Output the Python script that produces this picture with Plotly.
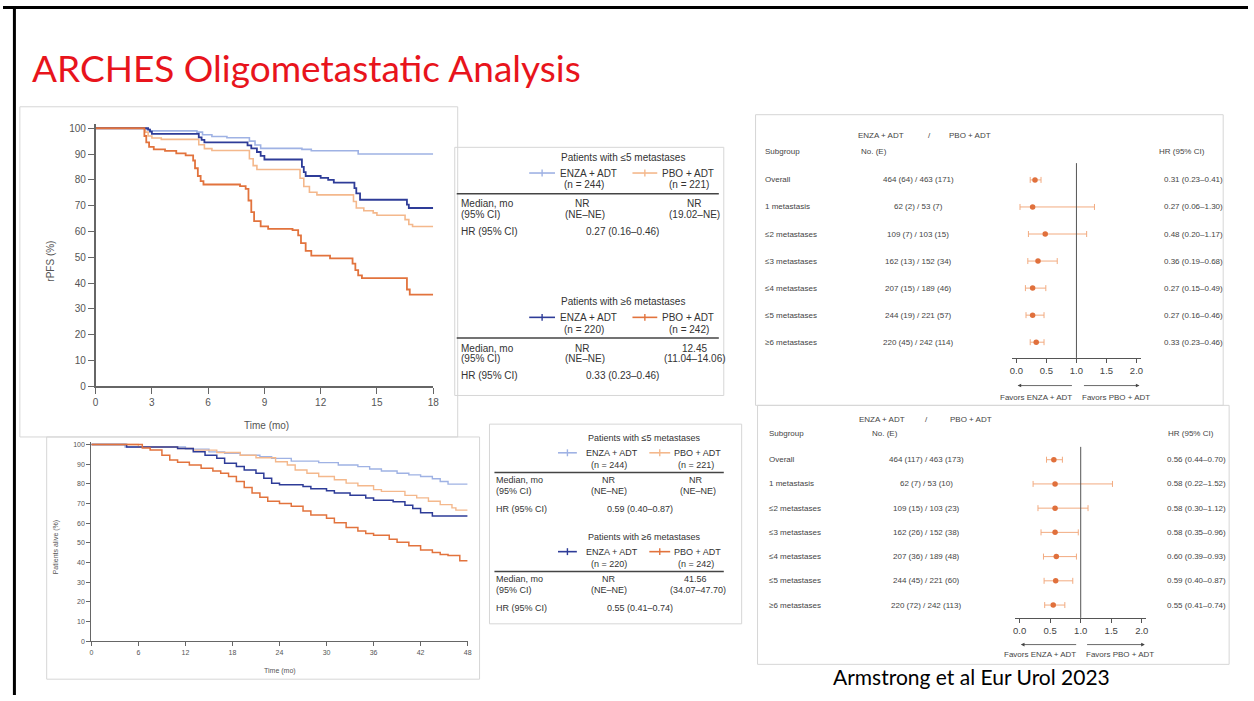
import plotly.graph_objects as go

W, H = 1254, 701


def fx(x):
    return x / W


def fy(y):
    return 1 - y / H


# ---------------- rPFS Kaplan-Meier (months, % event free) ----------------
rpfs_enza_le5_t = [0, 2.7, 2.9, 5.4, 5.7, 6.2, 7.0, 8.2, 8.5, 8.8, 11.0, 11.5, 14.0, 18]
rpfs_enza_le5_s = [100, 99.5, 99.0, 98.5, 97.5, 96.8, 96.3, 95.0, 93.5, 92.2, 91.8, 91.3, 90.0, 90.0]

rpfs_pbo_le5_t = [0, 2.65, 2.8, 3.0, 3.5, 5.5, 5.8, 6.2, 8.2, 8.4, 8.6, 10.9, 11.1, 11.4, 11.8,
                  13.75, 13.9, 14.3, 14.8, 15.0, 16.5, 16.7, 16.9, 18]
rpfs_pbo_le5_s = [100, 98.5, 97.0, 96.2, 95.7, 93.6, 92.1, 91.4, 88.2, 85.5, 84.0, 80.6, 77.4, 75.2, 74.2,
                  71.6, 69.1, 68.0, 67.2, 66.3, 64.6, 62.7, 61.9, 61.9]

rpfs_enza_ge6_t = [0, 2.8, 2.9, 3.0, 5.5, 5.65, 5.8, 8.1, 8.3, 8.6, 8.8, 9.0, 11.0, 11.1, 11.2,
                   12.0, 12.4, 12.7, 13.8, 13.9, 14.1, 16.6, 16.7, 18]
rpfs_enza_ge6_s = [100, 99.5, 98.7, 97.8, 96.5, 95.5, 94.5, 93.4, 92.2, 90.8, 89.3, 87.9, 85.0, 83.0, 81.5,
                   80.8, 80.0, 78.9, 76.8, 74.8, 72.3, 70.4, 69.1, 69.1]

rpfs_pbo_ge6_t = [0, 2.6, 2.7, 2.85, 3.1, 3.7, 4.3, 4.8, 5.2, 5.3, 5.45, 5.6, 5.75, 7.7, 8.0, 8.15,
                  8.3, 8.45, 8.8, 9.2, 10.5, 10.8, 10.95, 11.2, 11.5, 12.5, 13.7, 13.85, 14.0, 14.2,
                  16.6, 16.75, 18]
rpfs_pbo_ge6_s = [100, 97.0, 94.5, 92.8, 91.8, 91.2, 90.3, 89.5, 87.5, 84.5, 81.5, 79.5, 78.2, 77.6, 76.5, 72.0,
                  67.5, 64.0, 62.0, 61.0, 60.5, 58.5, 55.5, 52.5, 50.6, 49.6, 47.5, 45.0, 43.0, 41.9,
                  37.5, 35.5, 35.5]

# ---------------- OS Kaplan-Meier (months, % alive) ----------------
os_enza_le5_t = [0, 4.3, 12, 15, 17, 19, 21.5, 23, 25.5, 29, 31.5, 34, 35.5, 37, 39, 40.5, 42, 43.5, 44.5, 45.5, 48]
os_enza_le5_s = [100, 98.8, 97.7, 96.3, 95.5, 94.6, 93.8, 93.0, 91.6, 90.8, 89.6, 88.8, 87.6, 86.6, 85.4, 84.6,
                 83.8, 82.6, 81.2, 79.9, 79.9]

os_pbo_le5_t = [0, 6, 11, 13, 16, 19, 21, 23.5, 25, 26, 27.5, 29, 31, 32.5, 34, 36, 37, 40, 41.5, 43, 44.5,
                46, 46.5, 48]
os_pbo_le5_s = [100, 98.8, 98.0, 97.2, 96.0, 94.6, 93.3, 91.3, 89.6, 87.1, 85.4, 83.8, 82.1, 80.4, 79.1, 77.1,
                76.2, 74.2, 72.9, 71.2, 69.5, 67.8, 66.7, 66.7]

os_enza_ge6_t = [0, 4.5, 11, 13, 14.5, 16, 17, 18.5, 19.5, 21, 22, 23, 24, 27, 28, 30, 31, 33, 35, 36,
                 38.5, 40, 41, 42, 43.5, 48]
os_enza_ge6_s = [100, 98.8, 98.0, 96.3, 94.6, 93.0, 90.5, 88.8, 87.1, 85.4, 82.9, 80.4, 79.6, 78.7, 77.6,
                 76.5, 75.4, 74.2, 72.9, 71.7, 70.9, 69.2, 67.5, 65.3, 63.7, 63.7]

os_pbo_ge6_t = [0, 6.5, 7.5, 9, 10, 11, 12.5, 14, 15.5, 16.5, 17.5, 18.5, 19.5, 20.5, 21.5, 22.5, 24,
                25.5, 27, 28, 30, 31, 32.5, 34, 35, 36, 38, 39, 40.5, 42, 43.5, 44.5, 45.5, 47, 47.8, 48]
os_pbo_ge6_s = [100, 98.3, 97.2, 94.6, 92.1, 91.0, 89.6, 88.0, 86.6, 85.4, 83.8, 81.2, 78.2, 75.4, 73.2,
                71.2, 70.0, 68.7, 66.2, 64.2, 62.5, 60.3, 57.8, 56.1, 54.8, 53.9, 51.9, 50.3, 48.6,
                46.4, 45.2, 44.1, 43.6, 41.0, 41.0, 41.0]

# ---------------- Forest plots ----------------
subgroups = ["Overall", "1 metastasis", "≤2 metastases", "≤3 metastases",
             "≤4 metastases", "≤5 metastases", "≥6 metastases"]

rpfs_counts = ["464 (64) / 463 (171)", "62 (2) / 53 (7)", "109 (7) / 103 (15)",
               "162 (13) / 152 (34)", "207 (15) / 189 (46)", "244 (19) / 221 (57)",
               "220 (45) / 242 (114)"]
rpfs_hr = [0.31, 0.27, 0.48, 0.36, 0.27, 0.27, 0.33]
rpfs_lo = [0.23, 0.06, 0.20, 0.19, 0.15, 0.16, 0.23]
rpfs_hi = [0.41, 1.30, 1.17, 0.68, 0.49, 0.46, 0.46]

os_counts = ["464 (117) / 463 (173)", "62 (7) / 53 (10)", "109 (15) / 103 (23)",
             "162 (26) / 152 (38)", "207 (36) / 189 (48)", "244 (45) / 221 (60)",
             "220 (72) / 242 (113)"]
os_hr = [0.56, 0.58, 0.58, 0.58, 0.60, 0.59, 0.55]
os_lo = [0.44, 0.22, 0.30, 0.35, 0.39, 0.40, 0.41]
os_hi = [0.70, 1.52, 1.12, 0.96, 0.93, 0.87, 0.74]

hr_ticks = [0, 0.5, 1.0, 1.5, 2.0]
hr_ticktext = ["0.0", "0.5", "1.0", "1.5", "2.0"]

# ---------------- styling ----------------
ENZA_LE5 = "#9fb2e4"
ENZA_GE6 = "#2e3c98"
PBO_LE5 = "#f4b88c"
PBO_GE6 = "#e2733d"
PT = "#e0703c"
BAR = "#f2ab80"
AX = "#666666"
TXT = "#333333"
GREY = "#555555"
SANS = "Liberation Sans, Arial, sans-serif"

fig = go.Figure()


def km(t, s, color, width, xa, ya):
    fig.add_trace(go.Scatter(x=t, y=s, mode="lines", line=dict(color=color, width=width, shape="hv"),
                             xaxis=xa, yaxis=ya, showlegend=False, hoverinfo="skip"))


km(rpfs_enza_le5_t, rpfs_enza_le5_s, ENZA_LE5, 1.6, "x", "y")
km(rpfs_pbo_le5_t, rpfs_pbo_le5_s, PBO_LE5, 1.6, "x", "y")
km(rpfs_enza_ge6_t, rpfs_enza_ge6_s, ENZA_GE6, 1.8, "x", "y")
km(rpfs_pbo_ge6_t, rpfs_pbo_ge6_s, PBO_GE6, 1.8, "x", "y")

km(os_enza_le5_t, os_enza_le5_s, ENZA_LE5, 1.4, "x2", "y2")
km(os_pbo_le5_t, os_pbo_le5_s, PBO_LE5, 1.4, "x2", "y2")
km(os_enza_ge6_t, os_enza_ge6_s, ENZA_GE6, 1.5, "x2", "y2")
km(os_pbo_ge6_t, os_pbo_ge6_s, PBO_GE6, 1.5, "x2", "y2")


def forest(hr, lo, hi, xa, ya):
    fig.add_trace(go.Scatter(
        x=hr, y=list(range(len(hr))), mode="markers",
        marker=dict(size=5.5, color=PT),
        error_x=dict(type="data", symmetric=False,
                     array=[h - r for h, r in zip(hi, hr)],
                     arrayminus=[r - l for r, l in zip(hr, lo)],
                     color=BAR, thickness=1, width=3),
        xaxis=xa, yaxis=ya, showlegend=False, hoverinfo="skip"))


forest(rpfs_hr, rpfs_lo, rpfs_hi, "x3", "y3")
forest(os_hr, os_lo, os_hi, "x4", "y4")

km_axis = dict(showline=True, linecolor=AX, linewidth=1.5, ticks="outside", ticklen=6,
               tickcolor=AX, tickwidth=1.2, showgrid=False, zeroline=False, fixedrange=True)

forest_axis = dict(showline=True, linecolor=GREY, linewidth=1, ticks="outside", ticklen=4,
                   tickcolor=GREY, showgrid=False, zeroline=False, range=[-0.07, 2.07],
                   tickvals=hr_ticks, ticktext=hr_ticktext)

fig.update_layout(
    width=W, height=701, margin=dict(l=0, r=0, t=0, b=0),
    paper_bgcolor="white", plot_bgcolor="rgba(0,0,0,0)", showlegend=False,
    xaxis=dict(km_axis, domain=[fx(93.3), fx(433.3)], range=[0, 18], anchor="y",
               tickvals=list(range(0, 19, 3)), tickfont=dict(size=10, color=GREY, family=SANS)),
    yaxis=dict(km_axis, domain=[fy(388.7), fy(123.8)], range=[0, 101.5], anchor="x",
               tickvals=list(range(0, 101, 10)), tickfont=dict(size=10, color=GREY, family=SANS)),
    xaxis2=dict(km_axis, domain=[fx(89), fx(468)], range=[0, 48], anchor="y2", ticklen=4,
                linewidth=1.2, tickvals=list(range(0, 49, 6)), tickfont=dict(size=7, color=GREY, family=SANS)),
    yaxis2=dict(km_axis, domain=[fy(646.7), fy(444.7)], range=[0, 101.5], anchor="x2", ticklen=4,
                linewidth=1.2, tickvals=list(range(0, 101, 10)), tickfont=dict(size=7, color=GREY, family=SANS)),
    xaxis3=dict(forest_axis, domain=[fx(1016.5), fx(1145.9)], anchor="y3",
                tickfont=dict(size=9.5, color="#444", family=SANS)),
    yaxis3=dict(domain=[fy(360), fy(163)], range=[6.58, -0.62], visible=False, anchor="x3"),
    xaxis4=dict(forest_axis, domain=[fx(1019.7), fx(1151.3)], anchor="y4",
                tickfont=dict(size=9.5, color="#444", family=SANS)),
    yaxis4=dict(domain=[fy(623), fy(450)], range=[6.53, -0.53], visible=False, anchor="x4"),
)

shapes = []
ann = []


def box(x0, y0, x1, y1, color="#d6d6d6"):
    shapes.append(dict(type="rect", xref="paper", yref="paper", x0=fx(x0), x1=fx(x1), y0=fy(y1), y1=fy(y0),
                       line=dict(color=color, width=1), fillcolor="rgba(0,0,0,0)", layer="below"))


def hline(x0, x1, y, color=GREY, width=1.5):
    shapes.append(dict(type="line", xref="paper", yref="paper", x0=fx(x0), x1=fx(x1), y0=fy(y), y1=fy(y),
                       line=dict(color=color, width=width)))


def glyph(x0, x1, y, color):
    hline(x0, x1, y, color, 1.6)
    xm = (x0 + x1) / 2
    shapes.append(dict(type="line", xref="paper", yref="paper", x0=fx(xm), x1=fx(xm), y0=fy(y - 3.5),
                       y1=fy(y + 3.5), line=dict(color=color, width=1.4)))


def text(x, y, s, size, color=TXT, anchor="center", family=SANS, angle=0, yref="paper"):
    ann.append(dict(x=fx(x), y=(fy(y) if yref == "paper" else y), xref="paper", yref=yref, text=s,
                    showarrow=False, xanchor=anchor, yanchor="middle", textangle=angle,
                    font=dict(size=size, color=color, family=family)))


# slide frame
shapes.append(dict(type="line", xref="paper", yref="paper", x0=0, x1=1, y0=fy(5.5), y1=fy(5.5),
                   line=dict(color="black", width=3)))
shapes.append(dict(type="line", xref="paper", yref="paper", x0=fx(11.5), x1=fx(11.5), y0=fy(5), y1=0,
                   line=dict(color="black", width=3)))

# panel outlines
box(17, 106, 458, 440)
box(44, 440, 480, 685)
box(455, 147, 726, 398)
box(490, 427, 744, 629)
box(758, 114, 1229, 408)
box(760, 408, 1235, 670)

# title and citation
text(27, 66, "ARCHES Oligometastatic Analysis", 37, "#e8141c", "left", "Lato, Carlito, sans-serif")
text(834, 682, "Armstrong et al Eur Urol 2023", 21, "black", "left", "Lato, Carlito, sans-serif")

# KM axis titles
text(47, 262, "rPFS (%)", 10, GREY, angle=-90)
text(265, 428, "Time (mo)", 10, GREY)
text(53, 552, "Patients alive (%)", 7, GREY, angle=-90)
text(279, 677, "Time (mo)", 7, GREY)


# rPFS summary table
def table_block(dy, head, enza_c, pbo_c, n_e, n_p, med_e, ci_e, med_p, ci_p, hr_txt):
    text(624, 157 + dy, head, 10, TXT)
    glyph(530, 556, 173 + dy, enza_c)
    text(559, 173 + dy, "ENZA + ADT", 10, TXT, "left")
    glyph(634, 659, 173 + dy, pbo_c)
    text(662, 173 + dy, "PBO + ADT", 10, TXT, "left")
    text(585, 185 + dy, n_e, 10, TXT)
    text(691, 185 + dy, n_p, 10, TXT)
    hline(457, 721, 194 + dy, "#444", 1.5)
    text(459, 204 + dy, "Median, mo", 10, TXT, "left")
    text(459, 215 + dy, "(95% CI)", 10, TXT, "left")
    text(583, 204 + dy, med_e, 10, TXT)
    text(586, 215 + dy, ci_e, 10, TXT)
    text(696, 204 + dy, med_p, 10, TXT)
    text(697, 215 + dy, ci_p, 10, TXT)
    text(459, 232 + dy, "HR (95% CI)", 10, TXT, "left")
    text(624, 232 + dy, hr_txt, 10, TXT)


table_block(0, "Patients with ≤5 metastases", ENZA_LE5, PBO_LE5, "(n = 244)", "(n = 221)",
            "NR", "(NE–NE)", "NR", "(19.02–NE)", "0.27 (0.16–0.46)")
table_block(146, "Patients with ≥6 metastases", ENZA_GE6, PBO_GE6, "(n = 220)", "(n = 242)",
            "NR", "(NE–NE)", "12.45", "(11.04–14.06)", "0.33 (0.23–0.46)")


# OS summary table
def os_block(dy, head, enza_c, pbo_c, n_e, n_p, med_e, ci_e, med_p, ci_p, hr_txt):
    fs = 9
    text(646, 441 + dy, head, fs, TXT)
    glyph(559, 578, 456 + dy, enza_c)
    text(585, 456 + dy, "ENZA + ADT", fs, TXT, "left")
    glyph(651, 672, 456 + dy, pbo_c)
    text(674, 456 + dy, "PBO + ADT", fs, TXT, "left")
    text(610, 468 + dy, n_e, fs, TXT)
    text(698, 468 + dy, n_p, fs, TXT)
    hline(495, 726, 476 + dy, "#444", 1.5)
    text(495, 484 + dy, "Median, mo", fs, TXT, "left")
    text(495, 495 + dy, "(95% CI)", fs, TXT, "left")
    text(610, 484 + dy, med_e, fs, TXT)
    text(610, 495 + dy, ci_e, fs, TXT)
    text(698, 484 + dy, med_p, fs, TXT)
    text(700, 495 + dy, ci_p, fs, TXT)
    text(495, 513 + dy, "HR (95% CI)", fs, TXT, "left")
    text(642, 513 + dy, hr_txt, fs, TXT)


os_block(0, "Patients with ≤5 metastases", ENZA_LE5, PBO_LE5, "(n = 244)", "(n = 221)",
         "NR", "(NE–NE)", "NR", "(NE–NE)", "0.59 (0.40–0.87)")
os_block(100, "Patients with ≥6 metastases", ENZA_GE6, PBO_GE6, "(n = 220)", "(n = 242)",
         "NR", "(NE–NE)", "41.56", "(34.07–47.70)", "0.55 (0.41–0.74)")


# forest plot text columns
def forest_text(xa, ya, counts, hr, lo, hi, x_lab, x_cnt, x_hr, y_hdr1, y_hdr2, x_enza, x_slash, x_pbo,
                x_no, x_hrhead, y_arrow, y_fav, x_fav1, x_fav2, head, tail_l, tail_r, head_r):
    fs = 8
    col = "#444444"
    text(x_enza, y_hdr1, "ENZA + ADT", fs, col)
    text(x_slash, y_hdr1, "/", fs, col)
    text(x_pbo, y_hdr1, "PBO + ADT", fs, col)
    text(x_no, y_hdr2, "No. (E)", fs, col)
    text(x_lab, y_hdr2, "Subgroup", fs, col, "left")
    text(x_hrhead, y_hdr2, "HR (95% CI)", fs, col)
    for i, (g, c, r, l, h) in enumerate(zip(subgroups, counts, hr, lo, hi)):
        text(x_lab, i, g, fs, col, "left", yref=ya)
        text(x_cnt, i, c, fs, col, yref=ya)
        text(x_hr, i, f"{r:.2f} ({l:.2f}–{h:.2f})", fs, col, "left", yref=ya)
    shapes.append(dict(type="line", xref=xa, yref=ya + " domain", x0=1, x1=1, y0=0, y1=1,
                       line=dict(color=GREY, width=1)))
    for hx, tx in ((head, tail_l), (head_r, tail_r)):
        ann.append(dict(x=hx, y=fy(y_arrow), xref=xa, yref="paper", ax=tx, ay=0, axref=xa,
                        ayref="pixel", text="", showarrow=True, arrowhead=2, arrowsize=0.9,
                        arrowwidth=0.8, arrowcolor="#444", standoff=0, startstandoff=0))
    text(x_fav1, y_fav, "Favors ENZA + ADT", fs, col)
    text(x_fav2, y_fav, "Favors PBO + ADT", fs, col)


forest_text("x3", "y3", rpfs_counts, rpfs_hr, rpfs_lo, rpfs_hi, 765, 922, 1167, 135, 151,
            884, 933, 974, 877, 1188, 388, 400, 1040, 1121, 0.02, 0.95, 1.10, 2.05)
forest_text("x4", "y4", os_counts, os_hr, os_lo, os_hi, 770, 930, 1170, 422, 436,
            885, 930, 975, 888, 1197, 650, 660, 1044, 1125, 0.02, 0.95, 1.08, 2.05)

fig.update_layout(shapes=shapes, annotations=ann)
fig.write_html("out.html")
